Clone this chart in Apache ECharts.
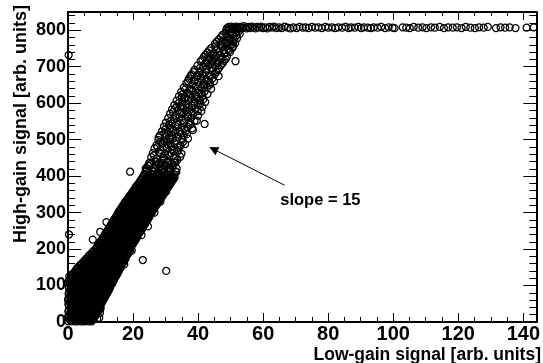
<!DOCTYPE html>
<html>
<head>
<meta charset="utf-8">
<script src="https://cdn.jsdelivr.net/npm/echarts@6/dist/echarts.min.js"></script>
<style>
html,body{margin:0;padding:0;background:#fff;}
#chart{width:543px;height:363px;}
</style>
</head>
<body>
<div id="chart"></div>
<script>
// ---- axis settings ----
const xRange = [0, 144];
const yRange = [0, 850];
const xStep = 20;
const yStep = 100;
const xTitle = 'Low-gain signal [arb. units]';
const yTitle = 'High-gain signal [arb. units]';
const annotationText = 'slope = 15';
const arrowFrom = [66.6, 375];
const arrowTo = [44.7, 474];
const annotationAt = [77.6, 333];

// ---- dense core: [highGain, [lowGain values...]] ----
const coreRowsA = [
 [2,[0.1,1.0,2.1,3.0,4.2,5.1,6.3,7.3]],
 [9,[0.5,1.6,2.6,3.7,4.8,5.8,6.9,7.8]],
 [17,[0.2,1.2,2.3,3.4,4.4,5.5,6.6,7.6,8.4]],
 [25,[0.7,1.8,2.9,3.9,5.1,6.1,7.2,8.3,9.0]],
 [33,[0.3,1.4,2.5,3.6,4.6,5.7,6.8,7.9,8.9,9.5]],
 [41,[0.8,1.9,3.0,4.1,5.2,6.3,7.4,8.4,9.4,10.0]],
 [49,[0.1,1.2,2.4,3.5,4.6,5.7,6.8,7.9,9.0,10.1]],
 [57,[0.6,1.7,2.8,3.9,5.0,6.2,7.3,8.4,9.5,10.6]],
 [65,[0.2,1.3,2.4,3.6,4.7,5.8,6.9,8.0,9.2,10.3,11.2]],
 [73,[0.7,1.8,3.0,4.1,5.2,6.3,7.5,8.6,9.7,10.8,11.6]],
 [81,[0.3,1.4,2.5,3.7,4.8,5.9,7.0,8.2,9.3,10.4,11.5,12.1]],
 [89,[0.8,1.9,3.1,4.2,5.3,6.5,7.6,8.7,9.8,11.0,12.0,12.6]],
 [97,[0.2,1.4,2.5,3.6,4.8,5.9,7.0,8.2,9.3,10.4,11.6,12.7]],
 [105,[0.6,1.8,2.9,4.0,5.2,6.3,7.4,8.6,9.7,10.8,12.0,13.1,13.6]],
 [113,[0.3,1.5,2.6,3.8,4.9,6.0,7.2,8.3,9.4,10.6,11.7,12.9,14.0]],
 [121,[0.8,2.0,3.1,4.3,5.4,6.5,7.7,8.8,10.0,11.1,12.3,13.4,14.4]],
 [129,[1.3,2.5,3.6,4.8,5.9,7.1,8.2,9.3,10.5,11.6,12.8,13.9,14.9]],
 [137,[2.0,3.1,4.3,5.4,6.6,7.7,8.9,10.0,11.2,12.3,13.5,14.6,15.4]],
 [145,[2.6,3.8,4.9,6.1,7.2,8.4,9.5,10.7,11.8,13.0,14.1,15.2,15.9]],
 [153,[3.4,4.6,5.7,6.9,8.0,9.2,10.3,11.5,12.6,13.8,14.9,16.1]],
 [161,[4.3,5.4,6.6,7.7,8.9,10.0,11.2,12.3,13.5,14.6,15.8,16.8]],
 [169,[5.1,6.3,7.4,8.6,9.7,10.9,12.0,13.2,14.3,15.5,16.6,17.3]],
 [177,[6.0,7.1,8.3,9.4,10.6,11.7,12.9,14.0,15.2,16.3,17.5]],
 [185,[6.8,8.0,9.1,10.3,11.4,12.6,13.7,14.9,16.0,17.2,18.3]],
 [193,[7.7,8.8,10.0,11.1,12.3,13.4,14.6,15.7,16.9,18.0,18.8]],
 [201,[8.6,9.7,10.9,12.0,13.2,14.3,15.5,16.6,17.8,18.9]],
 [209,[9.1,10.3,11.4,12.6,13.7,14.9,16.0,17.2,18.3,19.5]],
 [217,[9.7,10.9,12.0,13.2,14.3,15.5,16.6,17.8,18.9,20.1]],
 [225,[10.3,11.5,12.6,13.8,14.9,16.1,17.2,18.4,19.5,20.7]],
 [233,[10.9,12.0,13.2,14.3,15.5,16.6,17.8,18.9,20.1,21.2]],
 [241,[11.4,12.6,13.7,14.9,16.0,17.2,18.3,19.5,20.6,21.7]],
 [249,[12.0,13.1,14.3,15.4,16.6,17.7,18.9,20.0,21.2,22.3]],
 [257,[12.6,13.7,14.9,16.0,17.2,18.3,19.5,20.6,21.8,22.9]],
 [265,[13.1,14.3,15.4,16.6,17.7,18.9,20.0,21.2,22.3,23.4]],
 [273,[13.7,14.8,16.0,17.1,18.3,19.4,20.6,21.7,22.9,23.9]],
 [281,[14.2,15.4,16.5,17.7,18.8,20.0,21.1,22.3,23.4,24.5]],
 [289,[14.8,15.9,17.1,18.2,19.4,20.5,21.7,22.8,24.0,25.0]],
 [297,[15.3,16.4,17.6,18.7,19.9,21.0,22.2,23.3,24.5,25.4]],
 [305,[15.8,17.0,18.1,19.3,20.4,21.6,22.7,23.9,25.0,26.0]],
 [313,[16.4,17.6,18.7,19.9,21.0,22.2,23.3,24.5,25.6,26.6]],
 [321,[17.0,18.2,19.3,20.5,21.6,22.8,23.9,25.1,26.2,27.2]],
 [329,[17.6,18.8,19.9,21.1,22.2,23.4,24.5,25.7,26.8,27.8]],
 [337,[18.3,19.4,20.6,21.7,22.9,24.0,25.2,26.3,27.5,28.4]],
 [345,[18.9,20.1,21.2,22.4,23.5,24.7,25.8,27.0,28.1,29.0]],
 [353,[19.6,20.7,21.9,23.0,24.2,25.3,26.5,27.6,28.8,29.6]],
 [361,[20.2,21.4,22.5,23.7,24.8,26.0,27.1,28.3,29.4,30.1]],
 [369,[20.8,22.0,23.1,24.3,25.4,26.6,27.7,28.9,30.0,30.7]],
 [377,[21.5,22.7,23.8,25.0,26.1,27.3,28.4,29.6,30.7,31.3]],
 [385,[22.1,23.3,24.4,25.6,26.7,27.9,29.0,30.2,31.3,31.9]],
 [393,[22.7,23.9,25.0,26.2,27.3,28.5,29.6,30.8,31.9,32.5]]
];
const coreRowsB = [
 [6,[0.6,1.5,2.7,3.5,4.6,5.7,6.8,7.6]],
 [13,[0.0,1.1,2.0,3.2,4.3,5.3,6.3,7.4,8.1]],
 [21,[0.7,1.7,2.9,3.8,4.9,6.1,7.0,8.1,8.7]],
 [29,[0.1,1.3,2.4,3.3,4.5,5.6,6.6,7.8,8.8,9.3]],
 [37,[0.8,1.9,3.0,4.2,5.1,6.2,7.4,8.4,9.2,9.8]],
 [45,[0.3,1.4,2.4,3.6,4.7,5.8,6.8,7.8,8.9,9.9]],
 [53,[0.6,1.8,2.9,4.1,5.1,6.3,7.3,8.5,9.5,10.4]],
 [61,[0.0,1.1,2.2,3.4,4.5,5.5,6.7,7.9,8.9,10.0,10.8]],
 [69,[0.7,1.8,2.9,4.0,5.2,6.3,7.4,8.5,9.6,10.7,11.3]],
 [77,[0.2,1.3,2.4,3.5,4.7,5.8,6.9,8.0,9.1,10.2,11.2,11.9]],
 [85,[0.8,1.9,3.0,4.2,5.3,6.4,7.5,8.6,9.8,10.9,11.9,12.4]],
 [93,[0.3,1.4,2.5,3.7,4.8,5.9,7.0,8.1,9.3,10.4,11.5,12.4,12.9]],
 [101,[0.7,1.9,3.0,4.1,5.3,6.4,7.5,8.7,9.8,10.9,12.1,13.2]],
 [109,[0.1,1.2,2.3,3.4,4.6,5.7,6.8,8.0,9.1,10.2,11.4,12.5,13.5]],
 [117,[0.6,1.9,3.1,4.3,5.4,6.5,7.7,8.8,9.9,11.1,12.2,13.4,14.2]],
 [125,[0.4,1.4,2.6,3.7,4.8,6.0,7.1,8.2,9.4,10.5,11.7,12.8,14.0,14.7]],
 [133,[1.8,3.0,4.2,5.3,6.5,7.6,8.7,9.9,11.0,12.2,13.3,14.4,15.2]],
 [141,[2.4,3.6,4.8,5.9,7.1,8.2,9.4,10.5,11.7,12.8,14.0,15.0,15.7]],
 [149,[3.0,4.2,5.4,6.5,7.7,8.8,10.0,11.1,12.3,13.5,14.6,15.6,16.2]],
 [157,[3.9,5.1,6.2,7.4,8.5,9.7,10.8,12.0,13.1,14.3,15.4,16.5]],
 [165,[4.8,5.9,7.1,8.2,9.4,10.5,11.7,12.8,14.0,15.1,16.3,17.1]],
 [173,[5.6,6.8,7.9,9.1,10.2,11.4,12.5,13.7,14.8,16.0,17.0,17.7]],
 [181,[6.4,7.6,8.7,9.9,11.0,12.2,13.3,14.5,15.6,16.8,17.9]],
 [189,[7.3,8.5,9.6,10.8,11.9,13.1,14.2,15.4,16.5,17.7,18.6]],
 [197,[8.1,9.3,10.4,11.6,12.8,13.9,15.1,16.2,17.4,18.5,19.1]],
 [205,[8.9,10.1,11.3,12.5,13.6,14.8,15.9,17.1,18.3,19.3]],
 [213,[9.5,10.7,11.9,13.0,14.2,15.3,16.5,17.6,18.8,19.9]],
 [221,[10.1,11.3,12.5,13.6,14.8,16.0,17.1,18.3,19.4,20.5]],
 [229,[10.7,11.9,13.1,14.2,15.4,16.5,17.7,18.9,20.0,21.0]],
 [237,[11.2,12.4,13.6,14.8,15.9,17.1,18.2,19.4,20.6,21.5]],
 [245,[11.8,13.0,14.2,15.3,16.5,17.6,18.8,20.0,21.1,22.0]],
 [253,[12.3,13.5,14.7,15.9,17.0,18.2,19.3,20.5,21.7,22.6]],
 [261,[12.9,14.1,15.3,16.4,17.6,18.7,19.9,21.1,22.2,23.1]],
 [269,[13.4,14.6,15.8,17.0,18.1,19.3,20.4,21.6,22.8,23.7]],
 [277,[14.0,15.2,16.3,17.5,18.7,19.8,21.0,22.1,23.3,24.2]],
 [285,[14.5,15.7,16.9,18.0,19.2,20.4,21.5,22.7,23.8,24.8]],
 [293,[15.1,16.3,17.4,18.6,19.8,20.9,22.1,23.2,24.4,25.2]],
 [301,[15.6,16.8,18.0,19.1,20.3,21.5,22.6,23.8,24.9,25.8]],
 [309,[16.2,17.3,18.5,19.7,20.9,22.0,23.2,24.3,25.5,26.3]],
 [317,[16.8,17.9,19.1,20.3,21.4,22.6,23.8,24.9,26.1,26.9]],
 [325,[17.4,18.5,19.7,20.9,22.0,23.2,24.4,25.5,26.7,27.5]],
 [333,[18.0,19.2,20.3,21.5,22.7,23.8,25.0,26.1,27.3,28.1]],
 [341,[18.6,19.8,21.0,22.1,23.3,24.5,25.6,26.8,27.9,28.7]],
 [349,[19.3,20.4,21.6,22.8,23.9,25.1,26.2,27.4,28.6,29.3]],
 [357,[19.9,21.1,22.2,23.4,24.6,25.7,26.9,28.0,29.2,29.9]],
 [365,[20.5,21.7,22.8,24.0,25.2,26.3,27.5,28.6,29.8,30.4]],
 [373,[21.1,22.3,23.5,24.6,25.8,27.0,28.1,29.3,30.4,31.0]],
 [381,[21.8,23.0,24.1,25.3,26.5,27.6,28.8,29.9,31.1,31.6]],
 [389,[22.4,23.6,24.7,25.9,27.1,28.2,29.4,30.5,31.7,32.2]],
 [397,[23.0,24.2,25.3,26.5,27.7,28.8,30.0,31.1,32.3,32.8]],
 [405,[23.6,25.9,28.1,30.4,32.6]],
 [413,[23.9,26.3,28.6,31.0,33.1]],
 [421,[24.3,26.7,29.0,31.4,33.4]],
 [429,[24.8,27.2,29.6,32.2]],
 [437,[25.4,28.0,30.5,33.0]]
];

// ---- upper part of the linear band: [lowGain, highGain] ----
const upperBand = [
 [23.4,404],[25.1,401],[27.3,406],[28.9,402],[30.6,405],[32.2,400],
 [24.0,415],[26.2,412],[27.9,418],[29.7,413],[31.5,416],
 [24.6,428],[26.5,424],[28.4,427],[30.1,430],[32.0,425],
 [25.0,436],[27.1,440],[28.8,437],[30.7,441],[32.6,438],
 [25.6,452],[27.4,448],[29.3,451],[31.2,455],[33.1,449],[34.5,453],
 [26.1,463],[28.0,466],[29.8,460],[31.6,464],[33.5,467],
 [26.6,476],[28.5,472],[30.3,478],[32.1,474],[34.0,471],
 [27.2,485],[29.0,489],[30.8,486],[32.7,490],[34.6,484],[36.0,488],
 [27.8,499],[29.6,496],[31.4,501],[33.2,497],[35.1,500],[36.9,503],
 [28.3,512],[30.1,509],[31.9,513],[33.8,508],[35.6,511],
 [28.9,523],[30.7,520],[32.5,525],[34.3,521],[36.2,524],[38.4,526],
 [29.5,536],[31.3,532],[33.1,537],[34.9,533],[36.8,535],[38.2,531],
 [30.1,547],[31.9,544],[33.7,549],[35.5,545],[37.3,548],[39.6,552],
 [30.8,559],[32.5,556],[34.3,561],[36.1,557],[37.9,560],
 [31.4,571],[33.2,568],[35.0,573],[36.8,569],[38.6,572],[40.0,566],[41.0,578],
 [32.0,583],[33.8,580],[35.6,585],[37.4,581],[39.2,584],
 [32.7,595],[34.5,592],[36.3,597],[38.1,593],[39.9,596],[41.3,590],
 [33.4,607],[35.2,604],[37.0,609],[38.8,605],[40.6,608],[42.2,603],
 [34.1,619],[35.9,616],[37.7,621],[39.5,617],[41.3,620],
 [34.8,631],[36.6,628],[38.4,633],[40.2,629],[42.0,632],
 [35.6,643],[37.4,640],[39.2,645],[41.0,641],[42.8,644],[44.0,639],
 [36.4,655],[38.2,652],[40.0,657],[41.8,653],[43.6,656],
 [37.2,667],[39.0,664],[40.8,669],[42.6,665],[44.4,668],
 [38.0,679],[39.8,676],[41.6,681],[43.4,677],[45.2,680],[46.3,674],
 [38.9,691],[40.7,688],[42.5,693],[44.3,689],[46.1,692],
 [39.8,703],[41.6,700],[43.4,705],[45.2,701],[47.0,704],
 [40.8,715],[42.6,712],[44.4,717],[46.2,713],[48.0,716],
 [41.8,727],[43.6,724],[45.4,729],[47.2,725],[48.9,728],
 [42.9,739],[44.7,736],[46.5,741],[48.2,737],[49.8,740],
 [44.0,751],[45.8,748],[47.5,753],[49.2,749],[50.6,752],
 [45.2,763],[46.9,760],[48.6,765],[50.2,761],[51.4,764],
 [46.4,775],[48.0,772],[49.6,777],[51.1,773],
 [47.5,787],[49.0,784],[50.5,789],[51.8,785],
 [48.6,799],[50.0,796],[51.3,801],[52.5,797]
];
const upperBandB = [
 [24.5,408],[26.8,419],[29.1,409],[31.0,421],[33.3,411],[25.3,432],[27.8,433],[29.4,445],[31.8,434],[33.6,444],[23.9,421],
 [26.4,457],[28.6,461],[30.7,458],[32.6,470],[34.9,462],[27.5,480],[29.9,483],[31.7,480],[33.7,479],[35.4,494],[28.4,493],[30.3,494],[32.3,503],
 [27.9,506],[29.6,517],[31.1,506],[33.0,519],[34.9,517],[36.6,515],[29.9,529],[32.0,530],[33.8,541],[35.8,529],[37.6,541],[31.0,540],
 [31.5,551],[33.0,564],[35.1,553],[36.9,563],[38.9,551],[32.3,576],[34.4,575],[36.2,579],[38.0,577],[39.9,578],[33.3,589],[35.1,590],[37.0,588],[38.9,600],[40.7,599],
 [34.0,600],[35.9,611],[37.8,614],[39.8,612],[41.6,611],[35.2,625],[37.3,625],[39.1,623],[41.1,626],[42.9,625],[36.0,638],[38.0,637],[40.1,635],[41.9,649],[43.5,650],
 [36.9,661],[38.8,660],[41.1,662],[42.9,661],[44.9,660],[37.7,674],[39.6,672],[41.6,674],[43.7,673],[45.6,686],[38.6,685],[40.4,683],[42.3,685],[44.4,697],[46.4,696],
 [40.5,696],[42.2,709],[44.0,709],[45.9,709],[47.6,710],[41.3,720],[43.2,720],[45.0,722],[46.9,720],[48.5,721],[42.3,733],[44.2,731],[46.0,733],[47.8,746],[49.6,745],
 [43.4,745],[45.3,756],[47.1,757],[49.0,757],[50.8,757],
 [45.8,769],[47.5,768],[49.1,770],[50.8,769],[52.0,778],[47.0,781],[48.4,792],[50.0,791],[51.4,793],[52.8,790],[49.3,803],[50.8,804],[52.2,806]
];

// ---- saturation plateau ----
const plateau = [
 [48.9,806],[49.4,809],[49.8,804],[50.3,810],[50.7,807],[51.2,805],[51.7,810],[52.1,807],[52.6,804],[53.0,809],
 [53.5,806],[54.0,811],[54.4,807],[54.9,805],[55.4,809],[55.9,806],[56.5,810],[57.0,807],[57.6,805],[58.1,809],
 [58.8,807],[59.4,810],[60.0,806],[60.7,808],[61.3,805],[62.0,809],[62.7,807],[63.4,810],[64.1,806],[64.9,808],
 [65.7,806],[66.6,810],[67.5,807],[68.4,805],[69.3,808],[70.3,806],[71.2,809],[72.2,807],[73.1,808],[74.0,806],
 [75.0,809],[76.0,807],[77.0,808],[78.1,806],[79.1,809],[80.0,807],[81.2,808],[82.2,806],[83.1,808],[84.3,807],
 [85.4,809],[86.3,806],[87.0,808],[88.2,807],[89.3,809],[90.1,806],[91.0,808],[92.2,807],[93.1,806],[94.0,808],
 [95.2,807],[96.3,809],[97.5,806],[98.6,808],[99.8,807],[100.4,806],[102.9,808],[104.0,807],[105.1,806],[106.3,809],
 [107.7,807],[109.0,808],[110.2,806],[111.6,808],[112.8,807],[114.3,809],[115.6,806],[116.9,808],[118.3,807],[119.6,808],
 [121.0,806],[122.3,809],[123.7,807],[125.1,806],[126.4,808],[127.8,807],[129.1,809],[131.6,806],[133.0,808],[134.4,807],
 [135.8,808],[137.6,806],[141.0,807],[143.2,808]
];

// ---- stray points / outliers ----
const outliers = [
 [0.2,732],[0.3,240],[23.0,170],[30.2,140],[42.0,543],[19.1,412],[51.5,715],[35.0,616],
 [9.8,24],[10.0,36],[9.6,12],[15.0,130],[17.3,158],[19.6,196],[22.6,238],[24.6,262],
 [26.6,300],[28.4,330],[30.2,358],[9.9,247],[7.6,226],[11.8,274]
];

const points = [];
coreRowsA.forEach(([y, xs]) => xs.forEach(x => points.push([x, y])));
coreRowsB.forEach(([y, xs]) => xs.forEach(x => points.push([x, y])));
[upperBand, upperBandB, plateau, outliers].forEach(list => list.forEach(p => points.push(p)));

const FONT = "'Liberation Sans', Arial, Helvetica, sans-serif";

function xAxisDef(pos, labels) {
  return {
    type: 'value', position: pos, min: xRange[0], max: xRange[1], interval: xStep,
    axisLine: {show: true, onZero: false, lineStyle: {color: '#000', width: 2}},
    axisTick: {show: true, inside: true, length: pos === 'bottom' ? 9 : 8, lineStyle: {color: '#000', width: 1}},
    minorTick: {show: true, splitNumber: 4, length: pos === 'bottom' ? 5 : 4, lineStyle: {color: '#000', width: 1}},
    axisLabel: {show: labels, showMaxLabel: false, margin: 2, color: '#000', fontFamily: FONT, fontWeight: 'bold', fontSize: 20},
    splitLine: {show: false}
  };
}
function yAxisDef(pos, labels) {
  return {
    type: 'value', position: pos, min: yRange[0], max: yRange[1], interval: yStep,
    axisLine: {show: true, onZero: false, lineStyle: {color: '#000', width: 2}},
    axisTick: {show: true, inside: true, length: 13, lineStyle: {color: '#000', width: 1}},
    minorTick: {show: true, splitNumber: 5, length: 7, lineStyle: {color: '#000', width: 1}},
    axisLabel: {show: labels, showMaxLabel: false, margin: 2, color: '#000', fontFamily: FONT, fontWeight: 'bold', fontSize: 18},
    splitLine: {show: false}
  };
}

const chart = echarts.init(document.getElementById('chart'), null, {renderer: 'canvas'});
chart.setOption({
  animation: false,
  backgroundColor: '#fff',
  grid: {left: 68, right: 2, top: 12, bottom: 41, containLabel: false},
  xAxis: [xAxisDef('bottom', true), xAxisDef('top', false)],
  yAxis: [yAxisDef('left', true), yAxisDef('right', false)],
  graphic: [
    {type: 'text', x: 541, y: 355, style: {text: xTitle, fill: '#000', font: "bold 17.5px " + FONT, textAlign: 'right', textVerticalAlign: 'middle'}},
    {type: 'text', x: 21, y: 5, rotation: Math.PI / 2, style: {text: yTitle, fill: '#000', font: "bold 18px " + FONT, textAlign: 'right', textVerticalAlign: 'middle'}}
  ],
  series: [{
    type: 'scatter',
    xAxisIndex: 0, yAxisIndex: 0,
    clip: false,
    symbol: 'circle',
    symbolSize: 7,
    itemStyle: {color: 'rgba(0,0,0,0)', borderColor: '#000', borderWidth: 1.25, opacity: 1},
    emphasis: {disabled: true},
    data: points
  }, {
    type: 'scatter',
    xAxisIndex: 0, yAxisIndex: 0,
    data: [],
    itemStyle: {color: '#000'},
    markLine: {
      silent: true,
      symbol: ['none', 'triangle'],
      symbolSize: 9,
      label: {show: false},
      itemStyle: {color: '#000'},
      lineStyle: {color: '#000', width: 1, type: 'solid'},
      data: [[{coord: arrowFrom}, {coord: arrowTo}]]
    },
    markPoint: {
      silent: true,
      symbol: 'circle',
      symbolSize: 0,
      label: {show: true, position: 'inside', formatter: annotationText, color: '#000', fontFamily: FONT, fontWeight: 'bold', fontSize: 16.5},
      data: [{coord: annotationAt}]
    }
  }]
});
</script>
</body>
</html>
